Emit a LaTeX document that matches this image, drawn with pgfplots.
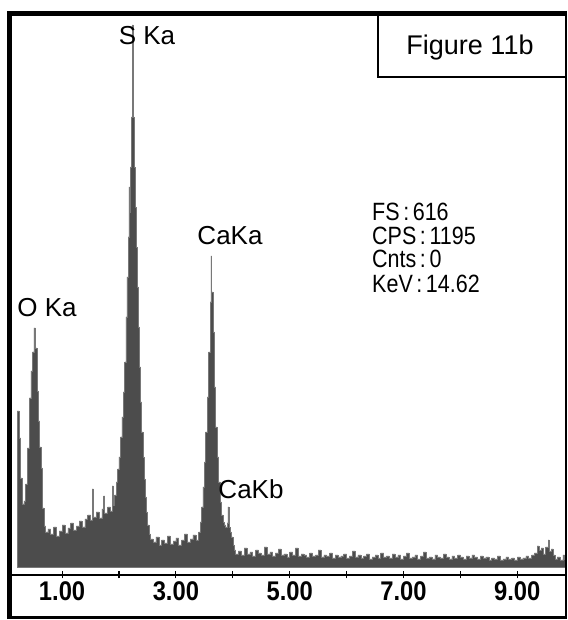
\documentclass[border=0pt]{standalone}
\usepackage{fontspec}
\setmainfont{Liberation Sans}
\usepackage{graphicx}
\usepackage{pgfplots}
\pgfplotsset{compat=1.18}
\definecolor{specgray}{RGB}{76,76,76}
\definecolor{specedge}{RGB}{120,120,120}
\newcommand\tl[1]{\scalebox{0.88}[1]{\fontsize{27}{30}\selectfont\bfseries #1}}
\newcommand\nar[1]{\scalebox{0.86}[1]{#1}}
\pgfplotstableread{
E h
0.21 156
0.245 129
0.27 89
0.30 63
0.33 66
0.36 83
0.39 119
0.42 169
0.45 196
0.48 215
0.505 239
0.53 219
0.555 176
0.58 146
0.605 120
0.63 99
0.655 59
0.68 41
0.71 35
0.75 38
0.80 33
0.85 40
0.90 31
0.95 36
1.00 42
1.05 34
1.10 39
1.15 44
1.20 37
1.25 41
1.30 46
1.35 40
1.40 48
1.45 52
1.50 47
1.53 78
1.55 50
1.60 55
1.65 49
1.70 58
1.73 71
1.75 54
1.80 60
1.85 56
1.88 81
1.90 62
1.925 72
1.95 85
1.975 98
2.00 110
2.025 130
2.05 150
2.075 175
2.10 205
2.12 250
2.14 290
2.16 330
2.175 380
2.185 355
2.20 400
2.22 450
2.237 542
2.25 450
2.265 400
2.28 360
2.30 320
2.32 280
2.34 240
2.36 200
2.38 165
2.40 135
2.42 110
2.44 88
2.46 70
2.48 55
2.50 42
2.525 33
2.55 28
2.60 25
2.65 30
2.70 22
2.75 27
2.80 24
2.85 31
2.90 23
2.95 26
3.00 29
3.05 22
3.10 27
3.15 33
3.20 25
3.25 28
3.30 32
3.35 27
3.40 35
3.425 45
3.45 60
3.475 80
3.50 105
3.525 135
3.55 170
3.575 215
3.60 265
3.615 311
3.627 275
3.65 235
3.675 180
3.70 140
3.725 110
3.75 85
3.775 65
3.80 52
3.825 45
3.85 42
3.875 40
3.90 44
3.915 60
3.93 40
3.95 35
3.975 30
4.00 22
4.025 17
4.05 13
4.10 16
4.15 12
4.20 19
4.25 13
4.30 15
4.35 11
4.40 17
4.45 14
4.50 12
4.55 20
4.60 13
4.65 15
4.70 11
4.75 14
4.80 18
4.85 12
4.90 13
4.95 10
5.00 15
5.05 12
5.10 19
5.15 11
5.20 13
5.25 12
5.30 10
5.35 14
5.40 11
5.45 12
5.50 17
5.55 10
5.60 12
5.65 11
5.70 14
5.75 9
5.80 12
5.85 10
5.90 11
5.95 13
6.00 9
6.05 11
6.10 16
6.15 10
6.20 12
6.25 9
6.30 11
6.35 13
6.40 8
6.45 10
6.50 12
6.55 9
6.60 14
6.65 10
6.70 11
6.75 9
6.80 13
6.85 10
6.90 12
6.95 8
7.00 11
7.05 14
7.10 9
7.15 10
7.20 12
7.25 8
7.30 11
7.35 15
7.40 9
7.45 10
7.50 8
7.55 12
7.60 10
7.65 9
7.70 13
7.75 10
7.80 8
7.85 11
7.90 9
7.95 12
8.00 10
8.05 8
8.10 11
8.15 9
8.20 12
8.25 10
8.30 8
8.35 11
8.40 9
8.45 10
8.50 7
8.55 9
8.60 8
8.65 11
8.70 7
8.75 8
8.80 10
8.85 8
8.90 9
8.95 7
9.00 10
9.05 8
9.10 9
9.15 11
9.20 9
9.25 12
9.30 14
9.35 21
9.38 17
9.42 19
9.46 13
9.50 20
9.54 27
9.56 16
9.60 18
9.63 12
9.66 8
9.70 10
9.75 7
9.80 12
9.83 8
9.86 8
}\spectrum
\begin{document}
\begin{tikzpicture}
\path[use as bounding box] (-12pt,-45pt) rectangle (555pt,575pt);
\begin{axis}[
  at={(0pt,0pt)}, anchor=south west,
  scale only axis, width=554.2pt, height=555pt,
  xmin=0.12, xmax=9.86, ymin=-8, ymax=547,
  axis x line=bottom, axis y line=none,
  x axis line style={-, line width=1.5pt},
  xtick={1,2,3,4,5,6,7,8,9},
  xticklabels={\tl{1.00},,\tl{3.00},,\tl{5.00},,\tl{7.00},,\tl{9.00}},
  tick align=center, major tick length=7pt,
  tick style={black, line width=1.1pt},
  ytick=\empty, clip=false,
]
\addplot[const plot, fill=specgray, draw=specedge, line width=0.5pt] table[x=E, y=h] {\spectrum} \closedcycle;
\end{axis}
% frame
\draw[line width=5pt] (-2pt,-44pt) -- (-2pt,564pt);
\draw[line width=5pt] (-4.5pt,561.5pt) -- (554pt,561.5pt);
\draw[line width=3pt] (-4.5pt,-42.5pt) -- (554pt,-42.5pt);
\draw[line width=1.2pt] (554pt,564pt) -- (554pt,-44pt);
\draw[line width=1.2pt] (366pt,559pt) -- (366pt,498pt) -- (554pt,498pt);
\node[font=\fontsize{27}{30}\selectfont, anchor=base] at (458pt,520pt) {Figure 11b};
% peak labels
\node[font=\fontsize{26}{30}\selectfont] at (135pt,539pt) {S Ka};
\node[font=\fontsize{26}{30}\selectfont] at (218pt,339pt) {CaKa};
\node[font=\fontsize{26}{30}\selectfont] at (35pt,267pt) {O Ka};
\node[font=\fontsize{26}{30}\selectfont] at (239pt,86pt) {CaKb};
% info block
\node[font=\fontsize{25}{28}\selectfont, anchor=base west, inner sep=0pt] at (360pt,354pt) {\nar{FS\,:\,616}};
\node[font=\fontsize{25}{28}\selectfont, anchor=base west, inner sep=0pt] at (360pt,330pt) {\nar{CPS\,:\,1195}};
\node[font=\fontsize{25}{28}\selectfont, anchor=base west, inner sep=0pt] at (360pt,307pt) {\nar{Cnts\,:\,0}};
\node[font=\fontsize{25}{28}\selectfont, anchor=base west, inner sep=0pt] at (360pt,282pt) {\nar{KeV\,:\,14.62}};
\end{tikzpicture}
\end{document}
